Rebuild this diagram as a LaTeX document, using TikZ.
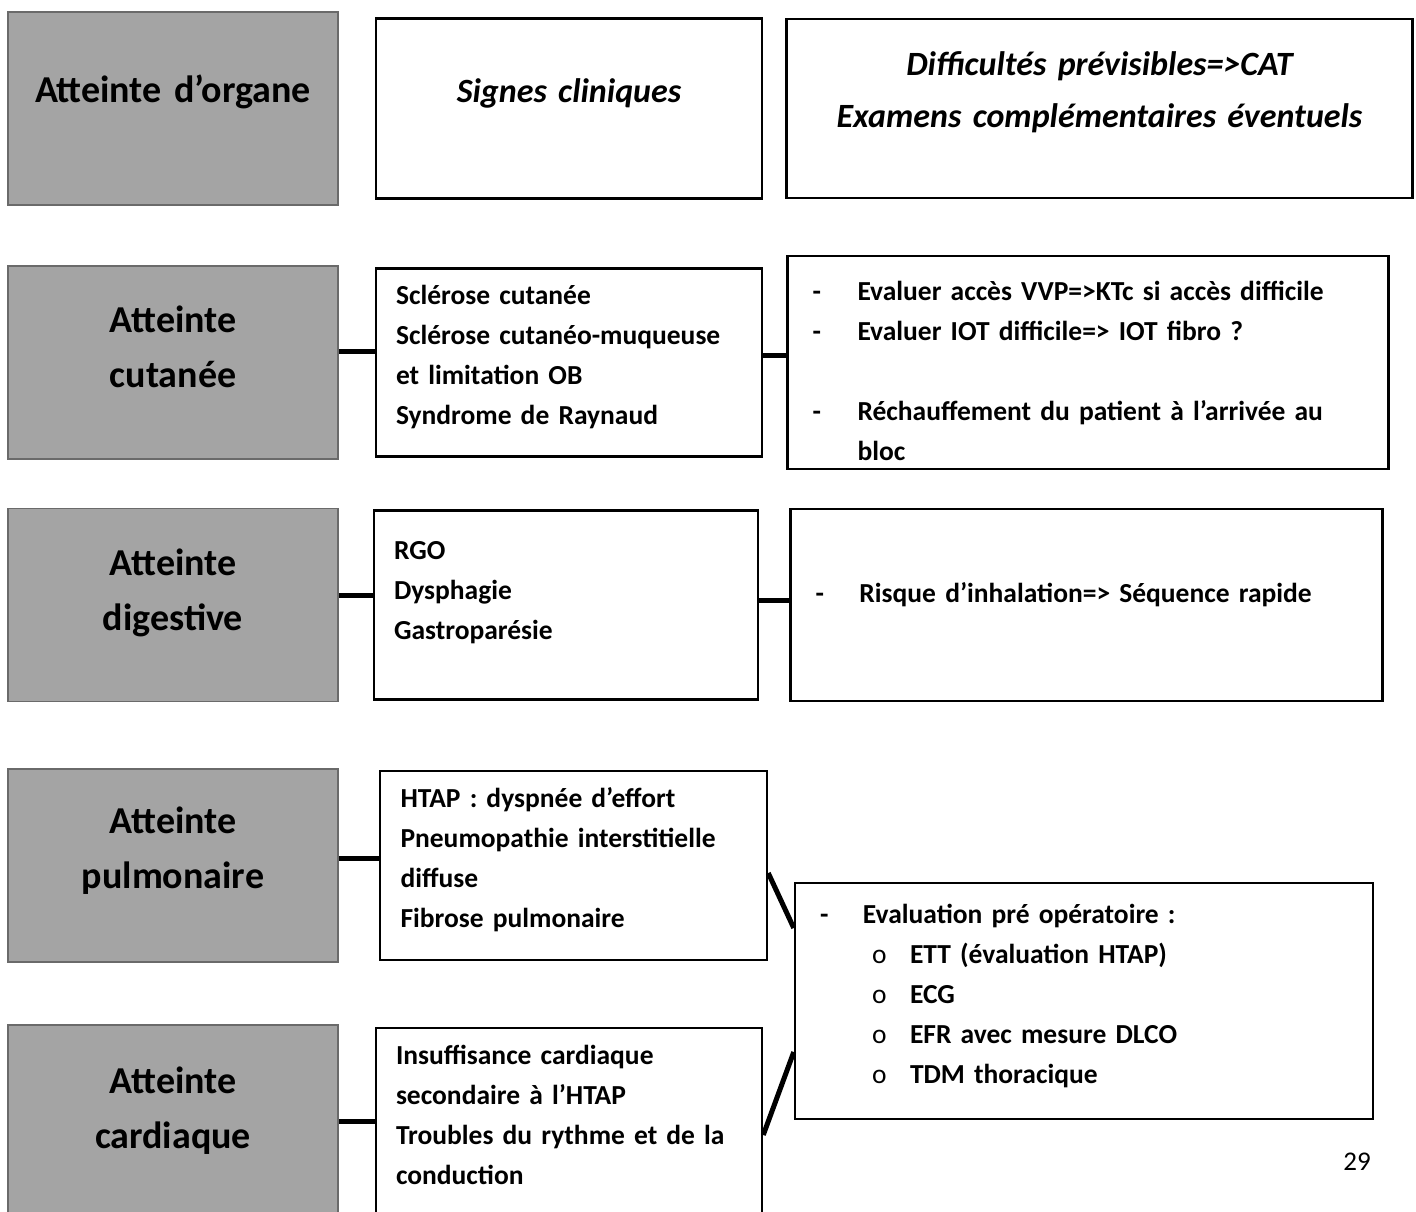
\documentclass[tikz,border=0pt]{standalone}
\usepackage{fontspec}
\setmainfont{Carlito}
\usetikzlibrary{positioning}
\definecolor{organgray}{HTML}{A4A4A4}
\definecolor{framegray}{HTML}{6A6A6A}
\newcommand{\padbelow}[1]{\rule[-#1]{0pt}{#1}}
\newcommand{\padabove}[1]{\rule{0pt}{#1}}

\begin{document}
\begin{tikzpicture}[
  x=1pt, y=-1pt,
  organ/.style={rectangle, draw=framegray, fill=organgray, line width=1.5pt, minimum width=330pt, minimum height=193pt, inner xsep=10pt, inner ysep=4pt, text width=310pt, align=center, font=\fontsize{38}{55}\selectfont\bfseries},
  header/.style={rectangle, draw=black, line width=2.5pt, inner xsep=10pt, inner ysep=4pt, align=center, font=\fontsize{34}{52}\selectfont\bfseries\itshape},
  signs/.style={rectangle, draw=black, line width=2.5pt, minimum width=386pt, inner xsep=20pt, inner ysep=4pt, text width=346pt, align=left, font=\fontsize{27.5}{40}\selectfont\bfseries},
  cat/.style={rectangle, draw=black, line width=2.5pt, inner xsep=25pt, inner ysep=4pt, align=left, font=\fontsize{27.5}{40}\selectfont\bfseries},
  link/.style={draw=black, line width=5pt}
]
  \useasboundingbox (0,0) rectangle (1416,1212);

  % header row
  \node[organ] (g0) at (173,108.5) {Atteinte d’organe\padbelow{40pt}};
  \node[header, minimum width=386pt, minimum height=180pt, text width=366pt, right=36pt of g0] (h1) {Signes cliniques\padbelow{35pt}};
  \node[header, minimum width=626pt, minimum height=179pt, text width=606pt, right=22pt of h1] (h2) {Difficultés prévisibles=>CAT\\Examens complémentaires éventuels\padbelow{37pt}};

  % cutanee
  \node[organ] (g1) at (173,362.5) {Atteinte\\cutanée\padbelow{31pt}};
  \node[signs, minimum height=188pt, right=36pt of g1] (c1) {Sclérose cutanée\\Sclérose cutanéo-muqueuse\\et limitation OB\\Syndrome de Raynaud\padbelow{16pt}};
  \node[cat, minimum width=601pt, minimum height=213pt, text width=551pt, right=23pt of c1] (c2) {\padabove{36pt}\makebox[45pt][l]{-}Evaluer accès VVP=>KTc si accès difficile\\
    \makebox[45pt][l]{-}Evaluer IOT difficile=> IOT fibro ?\\[40pt]
    \makebox[45pt][l]{-}Réchauffement du patient à l’arrivée au\\
    \hspace*{45pt}bloc};

  % digestive
  \node[organ] (g2) at (173,605) {Atteinte\\digestive\padbelow{31pt}};
  \node[signs, minimum width=384pt, text width=344pt, minimum height=189pt, right=34pt of g2] (d1) {RGO\\Dysphagie\\Gastroparésie\padbelow{29pt}};
  \node[cat, minimum width=592pt, minimum height=192pt, text width=542pt, right=30pt of d1] (d2) {\makebox[44pt][l]{-}Risque d’inhalation=> Séquence rapide\padbelow{26pt}};

  % pulmonaire
  \node[organ] (g3) at (173,865.5) {Atteinte\\pulmonaire\padbelow{36pt}};
  \node[signs, minimum width=387pt, minimum height=189pt, right=40pt of g3] (p1) {HTAP : dyspnée d’effort\\Pneumopathie interstitielle\\diffuse\\Fibrose pulmonaire\padbelow{16pt}};

  % cardiaque
  \node[organ] (g4) at (173,1121.5) {Atteinte\\cardiaque\padbelow{28pt}};
  \node[signs, minimum height=187pt, right=36pt of g4] (k1) {Insuffisance cardiaque\\secondaire à l’HTAP\\Troubles du rythme et de la\\conduction\padbelow{14pt}};

  % bilan commun
  \node[cat, minimum width=578pt, minimum height=236pt, text width=528pt] (e) at (1084,1001) {\makebox[43pt][l]{-}Evaluation pré opératoire :\\
    \hspace*{52pt}\makebox[38pt][l]{\mdseries o}ETT (évaluation HTAP)\\
    \hspace*{52pt}\makebox[38pt][l]{\mdseries o}ECG\\
    \hspace*{52pt}\makebox[38pt][l]{\mdseries o}EFR avec mesure DLCO\\
    \hspace*{52pt}\makebox[38pt][l]{\mdseries o}TDM thoracique\padbelow{14pt}};

  \node[font=\fontsize{27}{32}\selectfont] (pagenum) at (1357,1162) {29};

  \draw[link] ([yshift=11.5pt]g1.east) -- ([yshift=11.5pt]g1.east -| c1.west);
  \draw[link] ([yshift=7.5pt]c1.east) -- ([yshift=7.5pt]c1.east -| c2.west);
  \draw[link] ([yshift=10pt]g2.east) -- ([yshift=10pt]g2.east -| d1.west);
  \draw[link] ([yshift=5pt]d1.east) -- ([yshift=5pt]d1.east -| d2.west);
  \draw[link] ([yshift=7.5pt]g3.east) -- ([yshift=7.5pt]g3.east -| p1.west);
  \draw[link] (g4.east) -- (g4.east -| k1.west);
  \draw[link] ([yshift=-7.5pt]p1.east) -- ([yshift=73pt]e.west);
  \draw[link] ([yshift=-13.5pt]k1.east) -- ([yshift=-51pt]e.west);
\end{tikzpicture}
\end{document}
